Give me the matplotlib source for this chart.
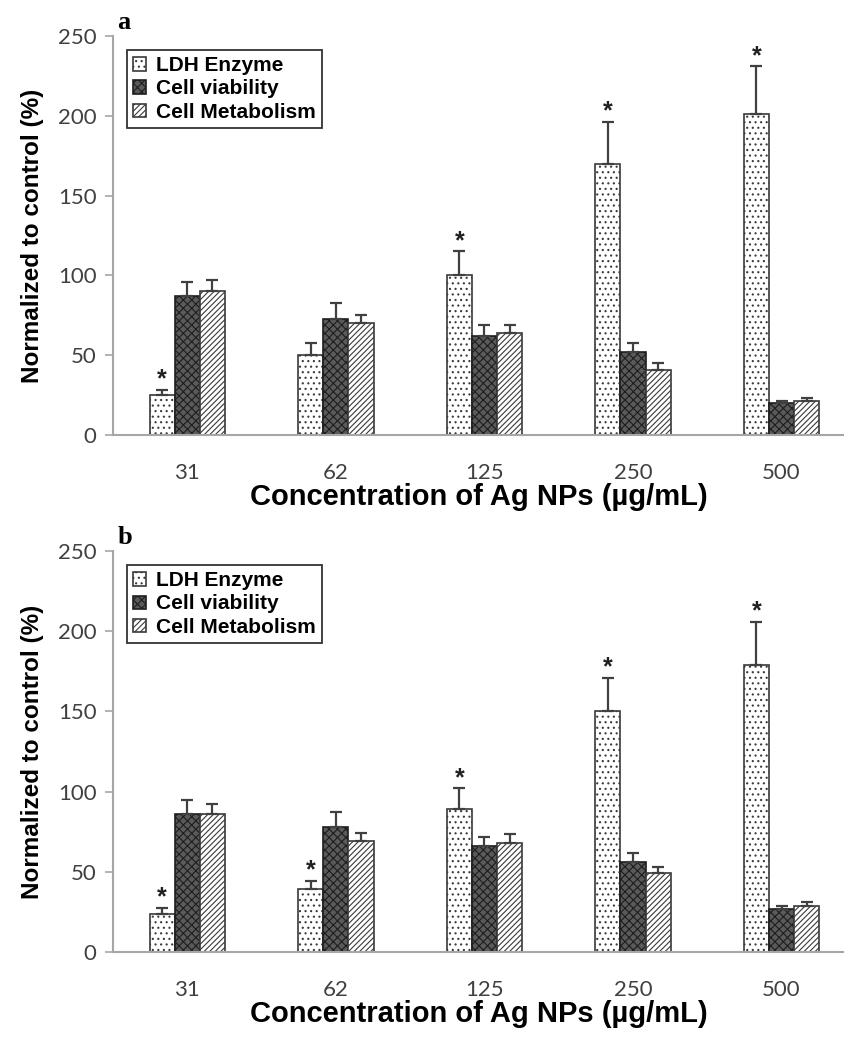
import matplotlib.pyplot as plt
import numpy as np

# --- Daten ---
concentrations = ["31", "62", "125", "250", "500"]
series_names = ["LDH Enzyme", "Cell viability", "Cell Metabolism"]

# Panel a
ldh_a = [25, 50, 100, 170, 201]
ldh_a_err = [3.5, 7.5, 15, 26, 30]
via_a = [87, 73, 62, 52, 20]
via_a_err = [9, 9.5, 7, 5.5, 1.5]
met_a = [90, 70, 64, 41, 21]
met_a_err = [7, 5.5, 5, 4, 2]
stars_a = [True, False, True, True, True]

# Panel b
ldh_b = [24, 39, 89, 150, 179]
ldh_b_err = [3.5, 5.5, 13, 21, 27]
via_b = [86, 78, 66, 56, 27]
via_b_err = [9, 9, 6, 6, 2]
met_b = [86, 69, 68, 49, 29]
met_b_err = [6.5, 5.5, 5.5, 4, 2]
stars_b = [True, True, True, True, True]

yticks = [0, 50, 100, 150, 200, 250]

styles = [
    dict(facecolor="white", edgecolor="#3a3a3a", hatch="..."),
    dict(facecolor="#5a5a5a", edgecolor="#1e1e1e", hatch="xxxx"),
    dict(facecolor="white", edgecolor="#3a3a3a", hatch="//////"),
]

plt.rcParams["hatch.linewidth"] = 0.8

fig = plt.figure(figsize=(8.44, 10.5), dpi=100)
ax_a = fig.add_axes([0.1339, 0.5857, 0.8661, 0.38])
ax_b = fig.add_axes([0.1339, 0.0933, 0.8661, 0.3819])

width = 0.169
gray = "#a6a6a6"


def draw_panel(ax, vals, errs, stars, letter):
    x = np.arange(len(concentrations))
    for i, (v, e) in enumerate(zip(vals, errs)):
        pos = x + (i - 1) * width
        ax.bar(pos, v, width, label=series_names[i], linewidth=1.2, **styles[i])
        ax.errorbar(pos, v, yerr=[np.zeros(len(e)), e], fmt="none",
                    ecolor="#404040", elinewidth=1.6, capsize=4, capthick=1.6)
    # Sternchen über LDH
    for j, s in enumerate(stars):
        if s:
            top = vals[0][j] + errs[0][j]
            ax.text(x[j] - width, top - 1, "*", ha="center", va="bottom",
                    fontsize=18, fontweight="bold", color="#202020",
                    family="Liberation Sans")

    ax.set_xlim(-0.5, 4.42)
    ax.set_ylim(0, 250)
    ax.set_yticks(yticks)
    ax.set_xticks(x)
    ax.set_xticklabels(concentrations)
    for sp in ["top", "right"]:
        ax.spines[sp].set_visible(False)
    for sp in ["left", "bottom"]:
        ax.spines[sp].set_color(gray)
        ax.spines[sp].set_linewidth(1.5)
    ax.tick_params(axis="y", direction="out", length=6, width=1.2, color=gray,
                   labelsize=16, labelcolor="#404040", pad=6)
    ax.tick_params(axis="x", length=0, labelsize=16, labelcolor="#404040", pad=20)
    for lab in ax.get_yticklabels() + ax.get_xticklabels():
        lab.set_family("Lato")

    ax.set_ylabel("Normalized to control (%)", fontsize=17.5, fontweight="bold",
                  family="Liberation Sans", labelpad=10)
    ax.set_xlabel("Concentration of Ag NPs (µg/mL)", fontsize=21, fontweight="bold",
                  family="Liberation Sans", labelpad=0)

    leg = ax.legend(loc="upper left", bbox_to_anchor=(0.019, 0.965), frameon=True,
                    fancybox=False, edgecolor="black", handlelength=0.6,
                    handleheight=0.6, handletextpad=0.5, borderpad=0.3,
                    borderaxespad=0, labelspacing=0.2,
                    prop=dict(family="Liberation Sans", weight="bold", size=15))
    leg.get_frame().set_linewidth(1.3)

    ax.text(0.006, 1.005, letter, transform=ax.transAxes, fontsize=19,
            fontweight="bold", family="Liberation Serif", ha="left", va="bottom")


draw_panel(ax_a, [ldh_a, via_a, met_a], [ldh_a_err, via_a_err, met_a_err], stars_a, "a")
draw_panel(ax_b, [ldh_b, via_b, met_b], [ldh_b_err, via_b_err, met_b_err], stars_b, "b")

plt.savefig("out.png", dpi=100)
